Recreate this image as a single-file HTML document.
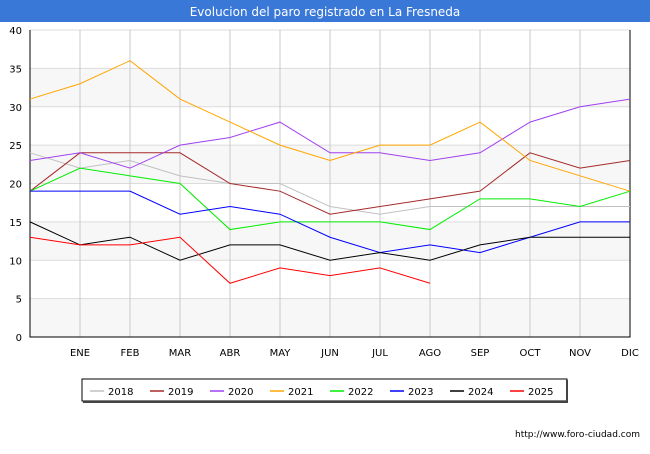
<!DOCTYPE html>
<html><head><meta charset="utf-8"><style>
body{margin:0;background:#fff;font-family:"DejaVu Sans","Liberation Sans",sans-serif}
svg text{font-family:"DejaVu Sans","Liberation Sans",sans-serif}
</style></head><body>
<svg width="650" height="450">
<rect x="0" y="0" width="650" height="450" fill="#fff"/>
<rect x="0" y="0" width="650" height="22" fill="#3a78d8"/>
<text x="325" y="16" text-anchor="middle" fill="#fff" font-size="12">Evolucion del paro registrado en La Fresneda</text>
<g id="plot"></g>
<rect x="82" y="379" width="485" height="22" fill="#fff" stroke="#000"/>
<line x1="567" y1="380" x2="567" y2="402" stroke="#444" stroke-width="2"/>
<line x1="83" y1="402" x2="568" y2="402" stroke="#444" stroke-width="2"/>
<g id="legend"></g>
<text x="640" y="437" text-anchor="end" font-size="9" fill="#000">http://www.foro-ciudad.com</text>
</svg>
<script>
const months=["","ENE","FEB","MAR","ABR","MAY","JUN","JUL","AGO","SEP","OCT","NOV","DIC"];
const yTicks=[0,5,10,15,20,25,30,35,40];
const years=["2018","2019","2020","2021","2022","2023","2024","2025"];
const colors=["#c0c0c0","#a52a2a","#a040f0","#ffa500","#00ee00","#0000ff","#000000","#ff0000"];
const s2018=[24,22,23,21,20,20,17,16,17,17,17,17,17];
const s2019=[19,24,24,24,20,19,16,17,18,19,24,22,23];
const s2020=[23,24,22,25,26,28,24,24,23,24,28,30,31];
const s2021=[31,33,36,31,28,25,23,25,25,28,23,21,19];
const s2022=[19,22,21,20,14,15,15,15,14,18,18,17,19];
const s2023=[19,19,19,16,17,16,13,11,12,11,13,15,15];
const s2024=[15,12,13,10,12,12,10,11,10,12,13,13,13];
const s2025=[13,12,12,13,7,9,8,9,7];
const series=[s2018,s2019,s2020,s2021,s2022,s2023,s2024,s2025];
const NS="http://www.w3.org/2000/svg";
const L=30,R=630,T=30,B=337;
const xs=i=>L+i*(R-L)/(months.length-1);
const ys=v=>B-v*(B-T)/40;
const g=document.getElementById('plot');
function mk(tag,attrs,parent){const e=document.createElementNS(NS,tag);for(const k in attrs)e.setAttribute(k,attrs[k]);parent.appendChild(e);return e;}
for(let i=0;i<yTicks.length-1;i+=2){
  const r=mk('rect',{x:L,y:ys(yTicks[i+1]),width:R-L,height:ys(yTicks[i])-ys(yTicks[i+1]),fill:'#f7f7f7'},g);
  
  
}
yTicks.forEach(v=>{
  const l=mk('line',{x1:L,x2:R,y1:ys(v),y2:ys(v),stroke:'#dcdcdc'},g);
  
  
  const t=mk('text',{x:L-8,y:ys(v)+4,'text-anchor':'end','font-size':'10',fill:'#000'},g);
  t.textContent=v;
  
  
});
months.forEach((m,i)=>{
  if(i>0){const l=mk('line',{x1:xs(i),x2:xs(i),y1:T,y2:B,stroke:'#c8c8c8'},g);
  
  }
  const t=mk('text',{x:xs(i),y:356,'text-anchor':'middle','font-size':'10',fill:'#000'},g);
  t.textContent=m;
  
  
});
const ax=mk('path',{d:`M${L} ${T}V${B}H${R}V${T}`,fill:'none',stroke:'#000'},g);


series.forEach((s,k)=>{
  const p=mk('polyline',{points:s.map((v,i)=>xs(i)+','+ys(v)).join(' '),fill:'none',stroke:colors[k],'stroke-width':'1'},g);
  
  
});
const lg=document.getElementById('legend');
years.forEach((y,k)=>{
  const x=90+k*60;
  const l=mk('line',{x1:x,x2:x+14,y1:391,y2:391,stroke:colors[k],'stroke-width':'1.5'},lg);
  
  
  const t=mk('text',{x:x+18,y:395,'font-size':'10',fill:'#000'},lg);
  t.textContent=y;
  
  
});
</script>
</body></html>
